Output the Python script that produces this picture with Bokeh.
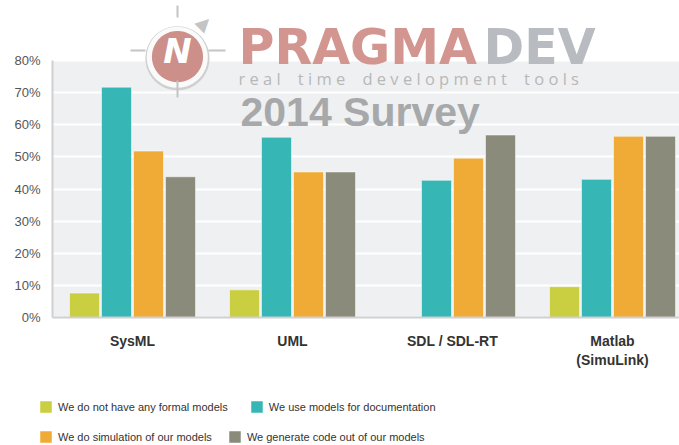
import numpy as np
from bokeh.plotting import figure
from bokeh.models import Label, Legend, LegendItem, FixedTicker, Range1d, BoxAnnotation
from bokeh.embed import file_html
from bokeh.resources import INLINE

categories = ["SysML", "UML", "SDL / SDL-RT", "Matlab\n(SimuLink)"]
series_names = [
    "We do not have any formal models",
    "We use models for documentation",
    "We do simulation of our models",
    "We generate code out of our models",
]
no_formal_models = [7.6, 8.6, 0.0, 9.6]
documentation = [71.7, 56.1, 42.7, 43.0]
simulation = [51.8, 45.3, 49.6, 56.4]
code_generation = [43.8, 45.3, 56.8, 56.4]
series_values = [no_formal_models, documentation, simulation, code_generation]
series_colors = ["#c9cf40", "#36b7b5", "#efab35", "#8a8b7b"]
y_ticks = [0, 10, 20, 30, 40, 50, 60, 70, 80]

FONT = "Liberation Sans"
W, H = 679, 445
PX_PER_GROUP = 160.0       # horizontal pixels per category
ORIGIN_X, ORIGIN_Y = 52, 317  # pixel position of (0, 0%)
PX_PER_PCT = 257 / 80.0

x_end = (W - ORIGIN_X) / PX_PER_GROUP
p = figure(width=W, height=H, output_backend="svg", toolbar_location=None,
           x_range=Range1d(-ORIGIN_X / PX_PER_GROUP, x_end),
           y_range=Range1d(-(H - ORIGIN_Y) / PX_PER_PCT, ORIGIN_Y / PX_PER_PCT),
           min_border_left=0, min_border_right=0, min_border_top=0, min_border_bottom=0)
p.outline_line_color = None
p.background_fill_color = "white"
p.border_fill_color = "white"

# plot-area background (0..80%)
p.add_layout(BoxAnnotation(left=0, bottom=0, top=80, fill_color="#eff0f2", fill_alpha=1,
                           line_color=None, level="image"))

offsets = [-0.3, -0.1, 0.1, 0.3]
centers = np.arange(len(categories)) + 0.5
renderers = []
for vals, col, off in zip(series_values, series_colors, offsets):
    r = p.vbar(x=centers + off, top=vals, bottom=0, width=0.1875,
               fill_color=col, line_color="white", line_alpha=0.5, line_width=1)
    renderers.append(r)

# axes through the origin
p.xaxis.fixed_location = 0
p.yaxis.fixed_location = 0
p.xaxis.bounds = (0, x_end)
p.yaxis.bounds = (0, 80)

p.xaxis.ticker = FixedTicker(ticks=list(centers))
p.xaxis.major_label_overrides = {float(c): n for c, n in zip(centers, categories)}
p.xaxis.major_label_text_font = FONT
p.xaxis.major_label_text_font_style = "bold"
p.xaxis.major_label_text_font_size = "14px"
p.xaxis.major_label_text_color = "#333333"
p.xaxis.major_tick_line_color = None
p.xaxis.minor_tick_line_color = None
p.xaxis.major_tick_out = 0
p.xaxis.major_tick_in = 0
p.xaxis.major_label_standoff = 15
p.xaxis.axis_line_color = "#cfd0d2"
p.xaxis.axis_line_width = 2

p.yaxis.ticker = FixedTicker(ticks=y_ticks)
p.yaxis.major_label_overrides = {t: f"{t}%" for t in y_ticks}
p.yaxis.major_label_text_font = FONT
p.yaxis.major_label_text_font_size = "13px"
p.yaxis.major_label_text_color = "#555555"
p.yaxis.major_tick_line_color = None
p.yaxis.minor_tick_line_color = None
p.yaxis.major_tick_out = 0
p.yaxis.major_tick_in = 0
p.yaxis.major_label_standoff = 12
p.yaxis.axis_line_color = "#cfd0d2"
p.yaxis.axis_line_width = 2

p.xgrid.grid_line_color = None
p.ygrid.grid_line_color = "white"
p.ygrid.grid_line_width = 2

# legends (frame-relative pixel locations)
def make_legend(idx, loc, spacing):
    items = [LegendItem(label=series_names[i], renderers=[renderers[i]]) for i in idx]
    return Legend(items=items, location=loc, orientation="horizontal", padding=0, margin=0,
                  spacing=spacing, glyph_width=15, glyph_height=15, label_height=15,
                  label_standoff=5, border_line_color=None, background_fill_alpha=0,
                  label_text_font=FONT, label_text_font_size="11px",
                  label_text_color="#333333")

p.add_layout(make_legend([0, 1], (38, 31), 21))
p.add_layout(make_legend([2, 3], (38, 1), 15))

# watermark logo
def lab(text, x, y, size, color, style="normal", font=FONT, align="left", baseline="alphabetic", angle=0):
    p.add_layout(Label(x=x, y=y, x_units="screen", y_units="screen", text=text,
                       text_font=font, text_font_size=size, text_color=color,
                       text_font_style=style, text_align=align, text_baseline=baseline,
                       angle=angle))

def line_box(l, r, b, t, color="#c4c4c4"):
    p.add_layout(BoxAnnotation(left=l, right=r, bottom=b, top=t, left_units="screen",
                               right_units="screen", bottom_units="screen", top_units="screen",
                               fill_color=color, fill_alpha=1, line_color=None, level="overlay"))

NB = "\u00a0"
tagline = (NB * 4).join(NB.join(w) for w in ["real", "time", "development", "tools"])

lab("PRAGMA", 238, 398, "49px", "#d3958f", style="bold", font="DejaVu Sans")
lab("DEV", 483, 398, "49px", "#b8bbc0", style="bold", font="DejaVu Sans")
lab(tagline, 238, 367, "16.5px", "#b8b8b8", font="Open Sans")
lab("2014 Survey", 240, 334, "41px", "#a7a8aa", style="bold")
# compass
line_box(176, 178, 428, 440)
line_box(176, 178, 348, 365)
line_box(130, 145, 394, 396)
line_box(208, 225, 394, 396)
lab("\u25b2", 205, 423, "18px", "#c4c4c4", font="DejaVu Sans", align="center", baseline="middle", angle=-0.785)
lab("\u25cf", 177, 395, "84px", "#cfcfcf", font="DejaVu Sans", align="center", baseline="middle")
lab("\u25cf", 177, 395, "80px", "#fafafa", font="DejaVu Sans", align="center", baseline="middle")
lab("\u25cf", 177, 395, "67px", "#cc8f89", font="DejaVu Sans", align="center", baseline="middle")
lab("N", 177, 395, "34px", "white", style="bold italic", font="DejaVu Sans", align="center", baseline="middle")

open("out.html", "w").write(file_html(p, INLINE))
